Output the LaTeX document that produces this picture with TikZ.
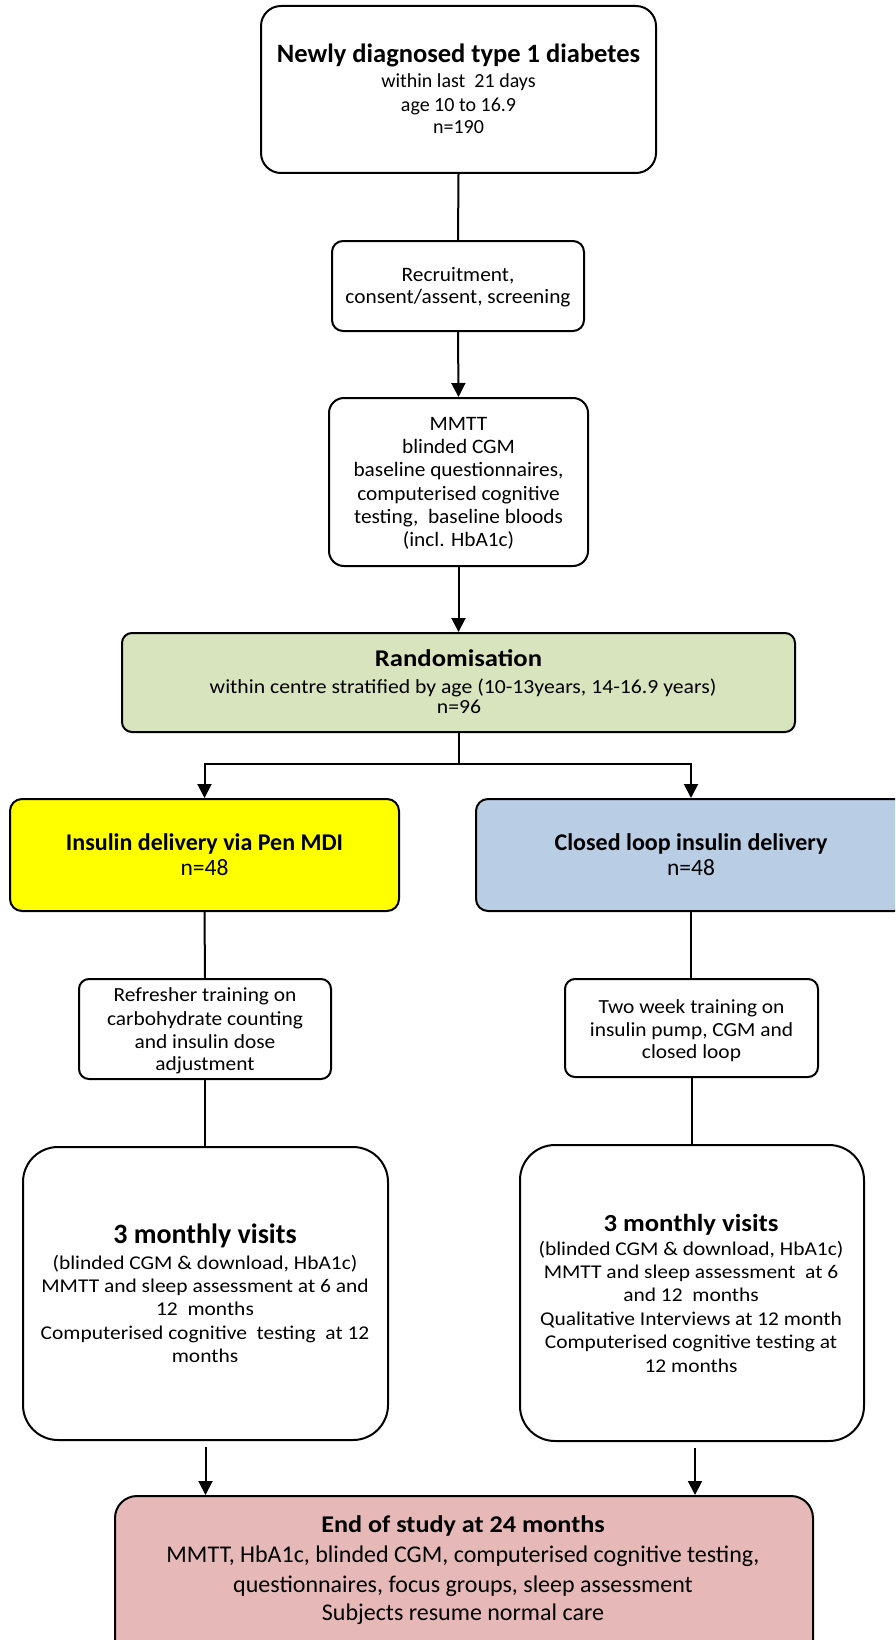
\documentclass[tikz,border=0pt]{standalone}
\usepackage{fontspec}
\usepackage{graphicx}
\setmainfont{Carlito}
\usetikzlibrary{arrows.meta}
\definecolor{randgreen}{HTML}{D7E4BD}
\definecolor{penyellow}{HTML}{FFFF00}
\definecolor{loopblue}{HTML}{B9CDE5}
\definecolor{endpink}{HTML}{E6B9B8}
\newcommand\fsz[1]{\fontsize{#1}{#1}\selectfont}
\newcommand\sx[2]{\scalebox{#1}[1]{#2}}
\tikzset{
  box/.style={draw=black, line width=2pt, rounded corners=#1, inner sep=0pt},
  box/.default=10pt,
  ln/.style={anchor=base, inner sep=0pt},
  con/.style={line width=2pt},
  arr/.style={line width=2pt, -{Triangle[width=14pt,length=14pt]}},
}
\begin{document}
\begin{tikzpicture}[x=1pt,y=-1pt]
\useasboundingbox (0,0) rectangle (895,1640);
\clip (0,0) rectangle (895,1640);
\fill[white] (0,0) rectangle (895,1640);

% boxes
\node[box=20pt, minimum width=395pt, minimum height=167pt] (top) at (458.5,89.5) {};
\node[box=11pt, minimum width=252pt, minimum height=90pt] (recruit) at (458,286) {};
\node[box=15pt, minimum width=259pt, minimum height=168pt] (mmtt) at (458.5,482) {};
\node[box=10pt, fill=randgreen, minimum width=673pt, minimum height=99pt] (rand) at (458.5,682.5) {};
\node[box=12pt, fill=penyellow, minimum width=389pt, minimum height=112pt] (pen) at (204.5,855) {};
\node[box=12pt, fill=loopblue, minimum width=430pt, minimum height=112pt] (loop) at (691,855) {};
\node[box=10pt, minimum width=252pt, minimum height=100pt] (refresh) at (205,1029) {};
\node[box=10pt, minimum width=253pt, minimum height=98pt] (twoweek) at (691.5,1028) {};
\node[box=35pt, minimum width=365pt, minimum height=293pt] (leftv) at (205.5,1293.5) {};
\node[box=35pt, minimum width=344pt, minimum height=296pt] (rightv) at (692,1293) {};
\node[box=22pt, fill=endpink, minimum width=698pt, minimum height=170pt] (endbox) at (464,1581) {};

% connectors
\draw[con] (top.south) -- (recruit.north);
\draw[arr] (recruit.south) -- (mmtt.north);
\draw[arr] (mmtt.south) -- (rand.north);
\coordinate (split) at (458.5,764);
\draw[con] (rand.south) -- (split);
\draw[arr] (split) -| (pen.north);
\draw[arr] (split) -| (loop.north);
\draw[con] (pen.south) -- (refresh.north);
\draw[con] (refresh.south) -- (leftv.north -| refresh.south);
\draw[con] (loop.south) -- (twoweek.north -| loop.south);
\draw[con] (twoweek.south) -- (rightv.north -| twoweek.south);
\coordinate (lstart) at ([yshift=-6pt]leftv.south);
\coordinate (rstart) at ([xshift=3pt,yshift=-6pt]rightv.south);
\draw[arr] (lstart) -- (lstart |- endbox.north);
\draw[arr] (rstart) -- (rstart |- endbox.north);

% texts: top
\node[ln, font=\fsz{26.5}\bfseries] (t1) at (458.5,63) {Newly diagnosed type 1 diabetes};
\node[ln, font=\fsz{20}] (t2) at (458.5,88) {within last \ 21 days};
\node[ln, font=\fsz{20}] (t3) at (458.5,112) {age 10 to 16.9};
\node[ln, font=\fsz{20}] (t4) at (458.5,133.5) {n=190};
% recruitment
\node[ln, font=\fsz{20.5}] (r1) at (458,281) {\sx{1.04}{Recruitment,}};
\node[ln, font=\fsz{20.5}] (r2) at (458,303) {\sx{1.04}{consent/assent, screening}};
% mmtt
\node[ln, font=\fsz{20.5}] (m1) at (458.5,430) {\sx{1.04}{MMTT}};
\node[ln, font=\fsz{20.5}] (m2) at (458.5,453) {\sx{1.04}{blinded CGM}};
\node[ln, font=\fsz{20.5}] (m3) at (458.5,476.5) {\sx{1.04}{baseline questionnaires,}};
\node[ln, font=\fsz{20.5}] (m4) at (458.5,500) {\sx{1.04}{computerised cognitive}};
\node[ln, font=\fsz{20.5}] (m5) at (458.5,523.5) {\sx{1.04}{testing, \ baseline bloods}};
\node[ln, font=\fsz{20.5}] (m6) at (458.5,546) {\sx{1.04}{(incl. HbA1c)}};
% randomisation
\node[ln, font=\fsz{24}\bfseries] (q1) at (458.5,666) {\sx{1.11}{Randomisation}};
\node[ln, font=\fsz{20}] (q2) at (463,693) {\sx{1.085}{within centre stratified by age (10-13years, 14-16.9 years)}};
\node[ln, font=\fsz{20}] (q3) at (459,713.5) {\sx{1.085}{n=96}};
% arms
\node[ln, font=\fsz{24}\bfseries] (p1) at (204.5,850) {Insulin delivery via Pen MDI};
\node[ln, font=\fsz{23.5}] (p2) at (204.5,875) {n=48};
\node[ln, font=\fsz{24}\bfseries] (c1) at (691,850) {Closed loop insulin delivery};
\node[ln, font=\fsz{23.5}] (c2) at (691,875) {n=48};
% refresher
\node[ln, font=\fsz{20}] (f1) at (205,1001.5) {\sx{1.07}{Refresher training on}};
\node[ln, font=\fsz{20}] (f2) at (205,1025) {\sx{1.07}{carbohydrate counting}};
\node[ln, font=\fsz{20}] (f3) at (205,1048) {\sx{1.07}{and insulin dose}};
\node[ln, font=\fsz{20}] (f4) at (205,1070.5) {\sx{1.07}{adjustment}};
% two week
\node[ln, font=\fsz{20}] (w1) at (691.5,1013) {\sx{1.07}{Two week training on}};
\node[ln, font=\fsz{20}] (w2) at (691.5,1036) {\sx{1.07}{insulin pump, CGM and}};
\node[ln, font=\fsz{20}] (w3) at (691.5,1058.5) {\sx{1.07}{closed loop}};
% left visits
\node[ln, font=\fsz{28}\bfseries] (l1) at (205,1243) {3 monthly visits};
\node[ln, font=\fsz{19.5}] (l2) at (205,1269) {\sx{1.1}{(blinded CGM \& download, HbA1c)}};
\node[ln, font=\fsz{19.5}] (l3) at (205,1292) {\sx{1.1}{MMTT and sleep assessment at 6 and}};
\node[ln, font=\fsz{19.5}] (l4) at (205,1315) {\sx{1.1}{12 \ months}};
\node[ln, font=\fsz{19.5}] (l5) at (205,1339) {\sx{1.1}{Computerised cognitive \ testing \ at 12}};
\node[ln, font=\fsz{19.5}] (l6) at (205,1362) {\sx{1.1}{months}};
% right visits
\node[ln, font=\fsz{24.5}\bfseries] (v1) at (691,1231) {\sx{1.09}{3 monthly visits}};
\node[ln, font=\fsz{19.5}] (v2) at (691,1255) {\sx{1.1}{(blinded CGM \& download, HbA1c)}};
\node[ln, font=\fsz{19.5}] (v3) at (691,1278) {\sx{1.1}{MMTT and sleep assessment \ at 6}};
\node[ln, font=\fsz{19.5}] (v4) at (691,1301) {\sx{1.1}{and 12 \ months}};
\node[ln, font=\fsz{19.5}] (v5) at (691,1325) {\sx{1.1}{Qualitative Interviews at 12 month}};
\node[ln, font=\fsz{19.5}] (v6) at (691,1348) {\sx{1.1}{Computerised cognitive testing at}};
\node[ln, font=\fsz{19.5}] (v7) at (691,1372) {\sx{1.1}{12 months}};
% end
\node[ln, font=\fsz{24}\bfseries] (e1) at (463,1532) {\sx{1.09}{End of study at 24 months}};
\node[ln, font=\fsz{24}] (e2) at (463,1562) {MMTT, HbA1c, blinded CGM, computerised cognitive testing,};
\node[ln, font=\fsz{24}] (e3) at (463,1592) {questionnaires, focus groups, sleep assessment};
\node[ln, font=\fsz{24}] (e4) at (463,1620) {Subjects resume normal care};
\end{tikzpicture}
\end{document}
